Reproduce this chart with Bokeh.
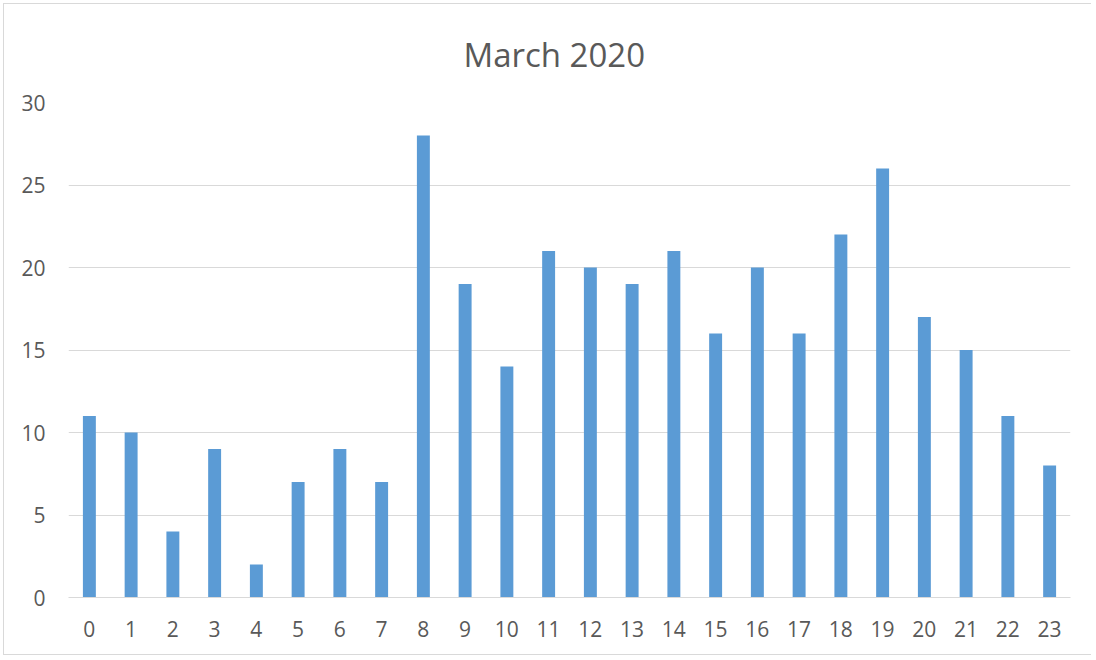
from bokeh.plotting import figure
from bokeh.models import Range1d, FactorRange, SingleIntervalTicker
from bokeh.embed import file_html
from bokeh.resources import INLINE

hours = [str(h) for h in range(24)]
counts = [11, 10, 4, 9, 2, 7, 9, 7, 28, 19, 14, 21, 20, 19, 21, 16, 20, 16, 22, 26, 17, 15, 11, 8]
title_text = "March 2020"

FONT = "Open Sans"
TXT = "#595959"
GRID = "#d9d9d9"
W, H = 1088, 652

p = figure(x_range=FactorRange(*hours), y_range=Range1d(0, 30),
           width=W, height=H, output_backend="svg", toolbar_location=None,
           min_border_left=64, min_border_right=22, min_border_top=98, min_border_bottom=59)

p.vbar(x=hours, top=counts, width=0.31, color="#5B9BD5", line_color=None)

p.title.text = title_text
p.title.align = "left"
p.title.offset = 395
p.title.text_font = FONT
p.title.text_font_size = "33px"
p.title.text_font_style = "normal"
p.title.text_color = TXT
p.title.standoff = 51

p.outline_line_color = None
p.xgrid.grid_line_color = None
p.ygrid.grid_line_color = GRID
p.ygrid.grid_line_width = 1

p.yaxis.ticker = SingleIntervalTicker(interval=5)
for ax in (p.xaxis[0], p.yaxis[0]):
    ax.axis_line_color = None
    ax.major_tick_line_color = None
    ax.minor_tick_line_color = None
    ax.major_tick_out = 0
    ax.major_tick_in = 0
    ax.major_label_text_font = FONT
    ax.major_label_text_font_size = "21px"
    ax.major_label_text_color = TXT
p.xaxis.axis_line_color = GRID
p.xaxis.axis_line_width = 1
p.yaxis.major_label_standoff = 19
p.xaxis.major_label_standoff = 23
p.x_range.range_padding = 0
p.x_range.group_padding = 0

p.styles = {"border-left": "1px solid #d9d9d9", "border-top": "1px solid #d9d9d9",
            "border-bottom": "1px solid #d9d9d9",
            "margin-left": "3px", "margin-top": "3px"}

open("out.html", "w").write(file_html(p, INLINE))
